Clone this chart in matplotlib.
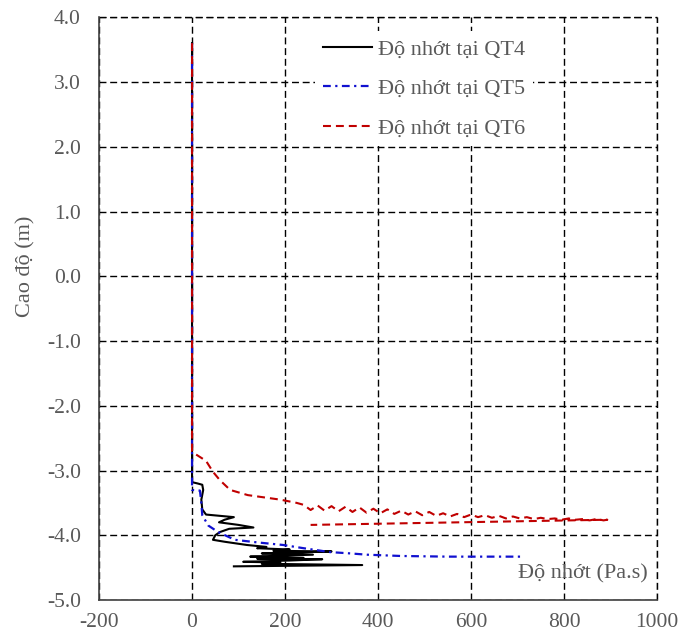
import matplotlib
matplotlib.use('Agg')
import matplotlib.pyplot as plt

# Viscosity profiles (Pa.s) vs elevation (m)
qt4_visc = [0, 0, 12, 22, 24, 20, 22, 30, 60, 90, 70, 58, 100, 132, 80, 60, 50,
            45, 70, 118, 160, 140, 210, 175, 300, 210, 150, 260, 170, 125, 240,
            140, 280, 210, 110, 190, 150, 366, 90]
qt4_elev = [3.6, -3.18, -3.2, -3.22, -3.3, -3.45, -3.6, -3.68, -3.7, -3.72, -3.76,
            -3.8, -3.84, -3.88, -3.9, -3.95, -4.0, -4.07, -4.1, -4.15, -4.18,
            -4.2, -4.22, -4.24, -4.25, -4.27, -4.28, -4.3, -4.32, -4.33, -4.35,
            -4.36, -4.37, -4.39, -4.41, -4.42, -4.44, -4.46, -4.48]

qt5_visc = [0, 0, 17, 20, 22, 35, 56, 92, 140, 196, 240, 297, 340, 376, 450,
            550, 650, 712]
qt5_elev = [3.6, -3.3, -3.31, -3.5, -3.69, -3.85, -3.95, -4.07, -4.11, -4.15,
            -4.2, -4.26, -4.28, -4.3, -4.32, -4.33, -4.33, -4.33]

qt6_visc = [0, 0, 8, 30, 45, 60, 82, 120, 190, 225,
            240, 255, 270, 285, 300, 315, 330, 345, 360, 375, 390, 405, 420,
            435, 450, 465, 480, 495, 510, 525, 540, 555, 570, 585, 600, 615,
            630, 645, 660, 675, 690, 705, 720, 735, 750, 765, 780, 795, 810,
            825, 840, 855, 870, 885, 893, 255]
qt6_elev = [3.6, -2.7, -2.75, -2.85, -3.02, -3.15, -3.3, -3.38, -3.45, -3.5,
            -3.53, -3.61, -3.54, -3.62, -3.55, -3.63, -3.56, -3.64, -3.57,
            -3.65, -3.59, -3.66, -3.6, -3.67, -3.62, -3.68, -3.63, -3.69,
            -3.64, -3.7, -3.66, -3.71, -3.67, -3.72, -3.68, -3.72, -3.69,
            -3.73, -3.7, -3.74, -3.71, -3.74, -3.72, -3.75, -3.73, -3.75,
            -3.74, -3.76, -3.74, -3.76, -3.75, -3.77, -3.75, -3.77, -3.76,
            -3.84]

labels = ['Độ nhớt tại QT4', 'Độ nhớt tại QT5', 'Độ nhớt tại QT6']

TXT = '#595959'
FS = 16
GRID = (0, (5, 2.7))
plt.rcParams['font.family'] = ['Liberation Serif', 'DejaVu Serif']
plt.rcParams['axes.unicode_minus'] = False

fig = plt.figure(figsize=(6.83, 6.39), dpi=100)
ax = fig.add_axes([0.145, 0.061, 0.817, 0.912])

ax.plot(qt4_visc, qt4_elev, '-', color='black', lw=1.5, label=labels[0], zorder=3)
ax.plot(qt5_visc, qt5_elev, color='#1010D0', lw=1.6, dashes=(3.5, 2, 1, 2),
        label=labels[1], zorder=4)
ax.plot(qt6_visc, qt6_elev, color='#C00000', lw=1.5, dashes=(3.8, 2.4),
        label=labels[2], zorder=5)

ax.set_xlim(-200, 1000)
ax.set_ylim(-5, 4)
ax.set_xticks(range(-200, 1001, 200))
ax.set_yticks(range(-5, 5))
ax.set_yticklabels([f'{v:.1f}' for v in range(-5, 5)])
ax.tick_params(length=0, labelsize=FS - 0.5, labelcolor=TXT)
ax.tick_params(axis='y', pad=13)
ax.tick_params(axis='x', pad=9)

ax.grid(True, color='black', linestyle=GRID, lw=1.0)
ax.spines['top'].set_visible(False)
ax.spines['right'].set_visible(False)
for s in ['left', 'bottom']:
    ax.spines[s].set_color('#404040')
    ax.spines[s].set_linewidth(1.2)
    ax.spines[s].set_zorder(6)

# gridlines at the top / right limits drawn like the other gridlines
ax.axhline(4, color='black', linestyle=GRID, lw=1.0, clip_on=False, zorder=0.5)
ax.axvline(1000, color='black', linestyle=GRID, lw=1.0, clip_on=False, zorder=0.5)

ax.set_ylabel('Cao độ (m)', fontsize=FS, color=TXT)
ax.yaxis.set_label_coords(-0.113, 0.572)
ax.text(0.984, 0.045, 'Độ nhớt (Pa.s)', transform=ax.transAxes, ha='right',
        va='center', fontsize=FS, color=TXT)

leg = ax.legend(loc='upper left', bbox_to_anchor=(0.387, 0.976), frameon=True,
                fontsize=FS, handlelength=2.2, labelspacing=0.85,
                handletextpad=0.3, borderpad=0.35, borderaxespad=0,
                fancybox=False, framealpha=1)
leg.get_frame().set_edgecolor('none')
leg.get_frame().set_facecolor('white')
leg.set_zorder(10)
for t in leg.get_texts():
    t.set_color(TXT)

fig.savefig('out.png', dpi=100)
